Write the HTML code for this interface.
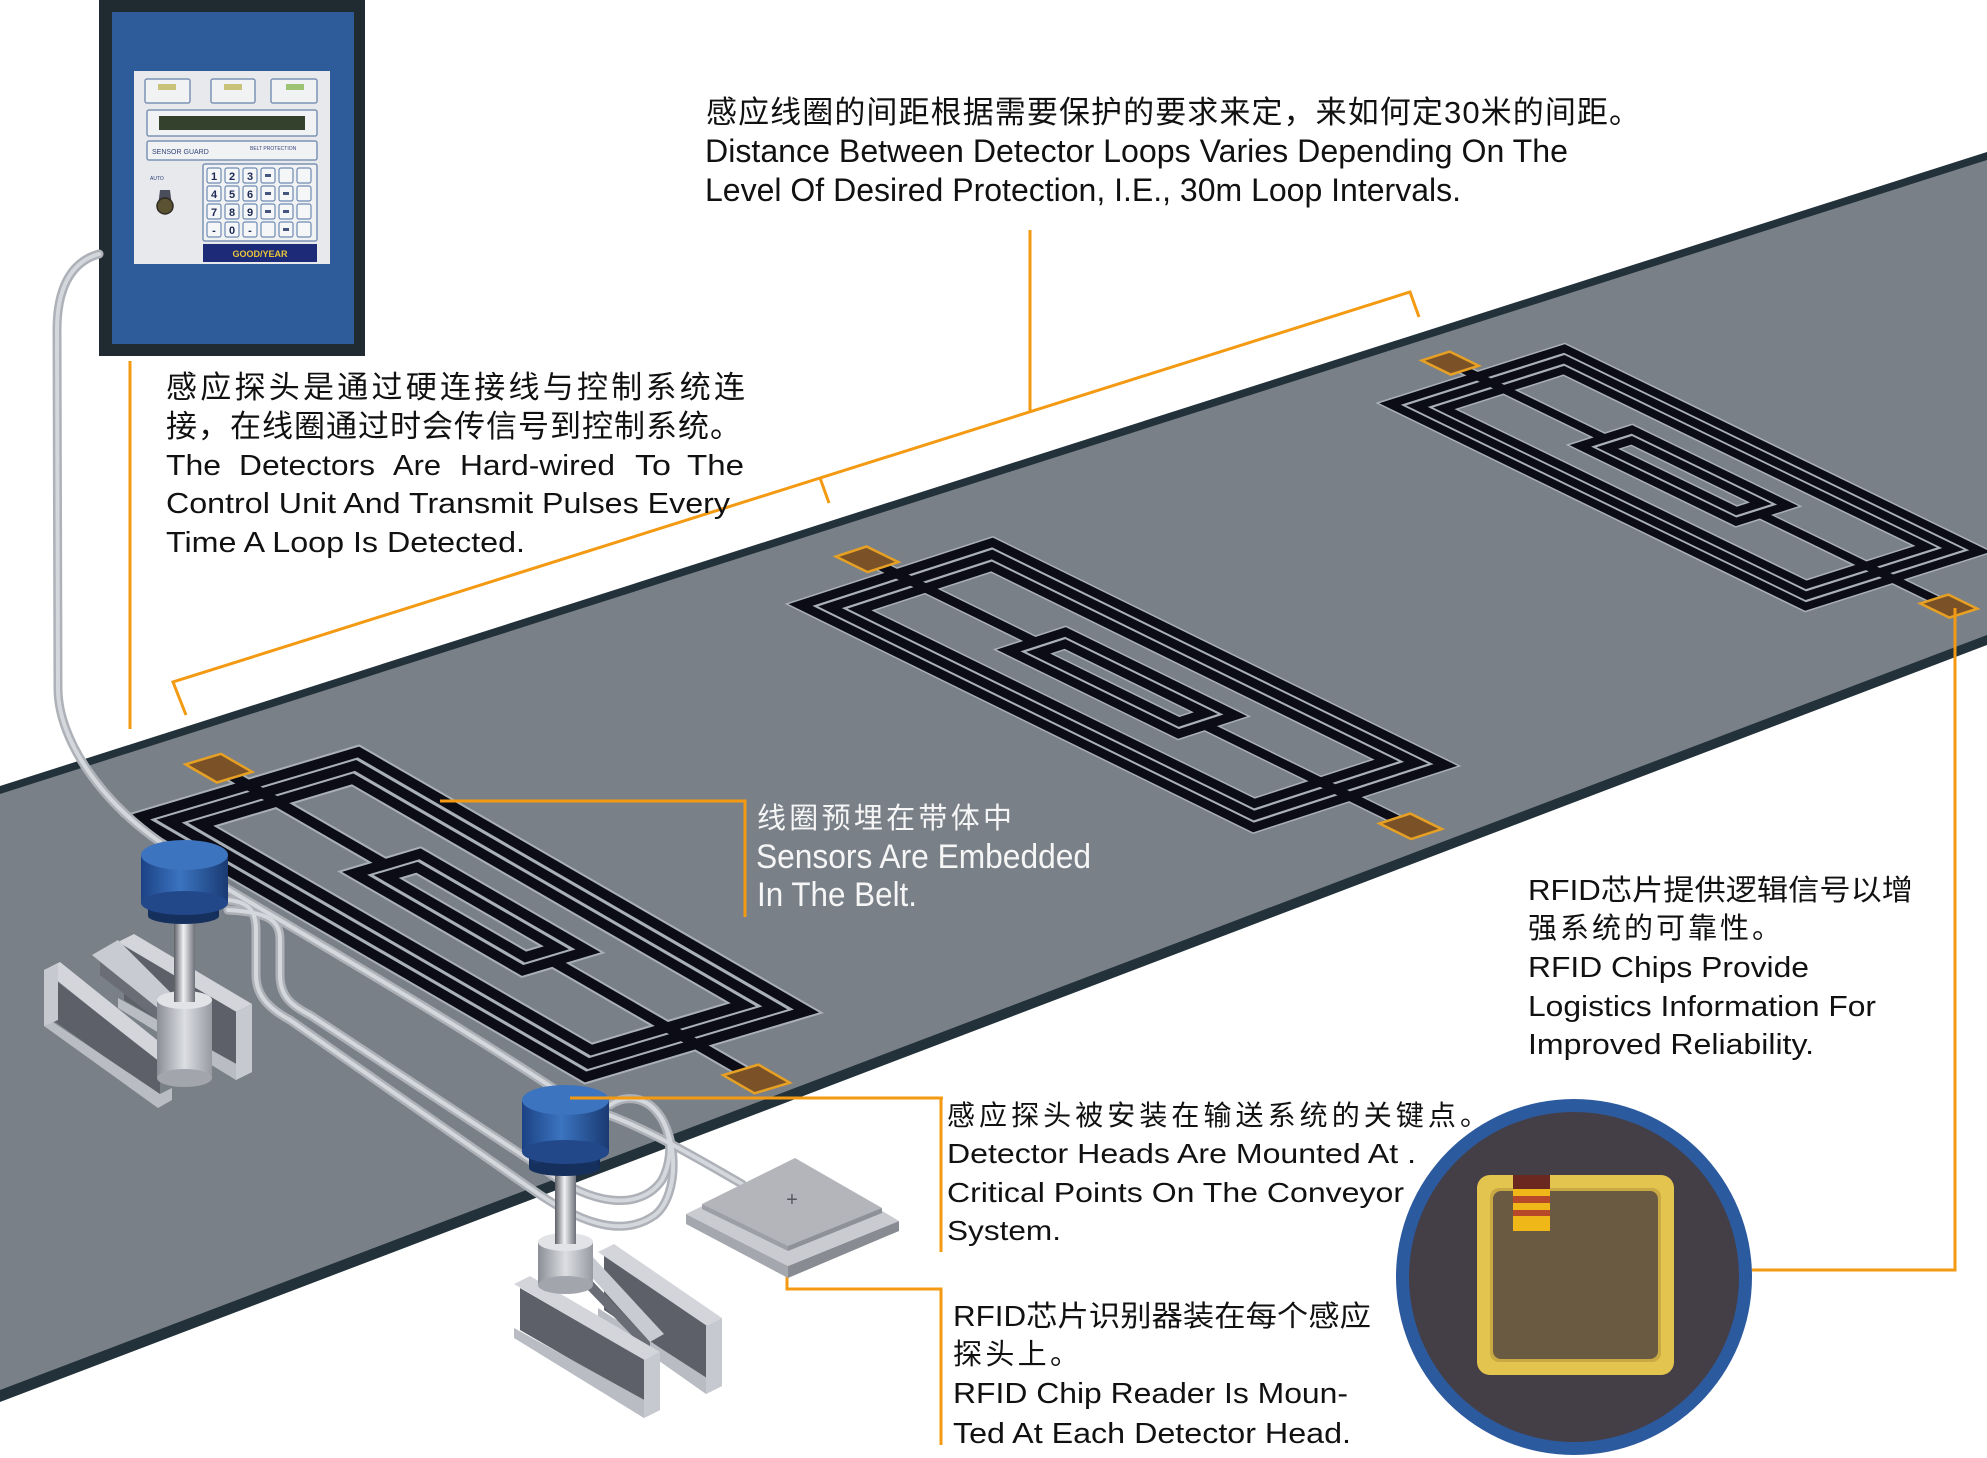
<!DOCTYPE html>
<html><head><meta charset="utf-8"><style>
html,body{margin:0;padding:0;background:#fff;}
svg{display:block;}
text{font-family:"Liberation Sans","Noto Sans CJK SC",sans-serif;}
</style></head><body>
<svg width="1987" height="1458" viewBox="0 0 1987 1458" xmlns="http://www.w3.org/2000/svg">
<defs>
<linearGradient id="blue" x1="0" x2="1" y1="0" y2="0">
<stop offset="0" stop-color="#1c4284"/><stop offset="0.45" stop-color="#3b74c0"/><stop offset="1" stop-color="#1a3a72"/>
</linearGradient>
<linearGradient id="blue2" x1="0" x2="1" y1="0" y2="0">
<stop offset="0" stop-color="#142e5e"/><stop offset="0.5" stop-color="#2a56a0"/><stop offset="1" stop-color="#132a56"/>
</linearGradient>
<linearGradient id="metal" x1="0" x2="1" y1="0" y2="0">
<stop offset="0" stop-color="#8b8e96"/><stop offset="0.5" stop-color="#dcdee2"/><stop offset="1" stop-color="#979aa2"/>
</linearGradient>
<linearGradient id="rod" x1="0" x2="1" y1="0" y2="0">
<stop offset="0" stop-color="#5c5f66"/><stop offset="0.45" stop-color="#f0f1f3"/><stop offset="1" stop-color="#6d7078"/>
</linearGradient>
<g id="lp" fill="none" stroke-linejoin="miter" stroke-miterlimit="8">
<polygon vector-effect="non-scaling-stroke" points="0,0 1,0 1,1 0,1"/>
<polygon vector-effect="non-scaling-stroke" points="0.032,0.078 0.968,0.078 0.968,0.922 0.032,0.922"/>
<polygon vector-effect="non-scaling-stroke" points="0.064,0.156 0.936,0.156 0.936,0.844 0.064,0.844"/>
<polygon vector-effect="non-scaling-stroke" points="0.306,0.362 0.681,0.362 0.681,0.658 0.306,0.658"/>
<polygon vector-effect="non-scaling-stroke" points="0.338,0.44 0.649,0.44 0.649,0.58 0.338,0.58"/>
<polyline vector-effect="non-scaling-stroke" points="-0.07,0.5 0.306,0.5"/>
<polyline vector-effect="non-scaling-stroke" points="0.681,0.5 1.11,0.5"/>
</g>
<g id="pads" fill="#7b5228" stroke="#e6a024" stroke-width="2.5">
<polygon vector-effect="non-scaling-stroke" points="-0.1,0.42 -0.03,0.42 -0.03,0.58 -0.1,0.58"/>
<polygon vector-effect="non-scaling-stroke" points="1.1,0.42 1.17,0.42 1.17,0.58 1.1,0.58"/>
</g>
</defs>

<rect width="1987" height="1458" fill="#ffffff"/>

<!-- belt -->
<polygon points="0,786 1987,152 1987,645 0,1402" fill="#23323a"/>
<polygon points="0,794 1987,160 1987,635 0,1390" fill="#7a8088"/>

<!-- loops -->
<g transform="matrix(448 259 221 -66 137.5 818)">
<use href="#lp" stroke="#a9b0b8" stroke-width="14"/>
<use href="#lp" stroke="#0c0c16" stroke-width="10"/>
<use href="#pads"/>
</g>
<g transform="matrix(453 222.5 192 -62.5 800.5 605)">
<use href="#lp" stroke="#a9b0b8" stroke-width="12"/>
<use href="#lp" stroke="#0c0c16" stroke-width="9"/>
<use href="#pads"/>
</g>
<g transform="matrix(415.5 202.5 174.5 -55.5 1390 404)">
<use href="#lp" stroke="#a9b0b8" stroke-width="11"/>
<use href="#lp" stroke="#0c0c16" stroke-width="8"/>
<use href="#pads"/>
</g>

<!-- control panel -->
<rect x="99" y="0" width="266" height="356" fill="#1f2b31"/>
<rect x="112" y="12" width="242" height="332" fill="#2e5b99"/>
<rect x="134" y="71" width="196" height="193" fill="#e7e9ed"/>
<g fill="#f1f2f4" stroke="#7d93b5" stroke-width="1.5">
<rect x="145" y="79" width="45" height="24" rx="2"/>
<rect x="211" y="79" width="44" height="24" rx="2"/>
<rect x="271" y="79" width="46" height="24" rx="2"/>
<rect x="147" y="110" width="170" height="26" rx="2"/>
<rect x="147" y="141" width="170" height="19" rx="2"/>
<rect x="203" y="164" width="114" height="77" rx="2"/>
</g>
<rect x="158" y="84" width="18" height="6" fill="#c9c27a"/>
<rect x="224" y="84" width="18" height="6" fill="#c9c27a"/>
<rect x="286" y="84" width="18" height="6" fill="#9cc474"/>
<rect x="159" y="116" width="146" height="14" fill="#34412d"/>
<text x="152" y="154" font-size="7" fill="#34457a">SENSOR GUARD</text>
<text x="250" y="150" font-size="5" fill="#34457a">BELT PROTECTION</text>
<g fill="#f5f6f8" stroke="#6f8ab3" stroke-width="1.2">
<rect x="207" y="168" width="14" height="15" rx="2"/><rect x="225" y="168" width="14" height="15" rx="2"/><rect x="243" y="168" width="14" height="15" rx="2"/><rect x="261" y="168" width="14" height="15" rx="2"/><rect x="279" y="168" width="14" height="15" rx="2"/><rect x="297" y="168" width="14" height="15" rx="2"/>
<rect x="207" y="186" width="14" height="15" rx="2"/><rect x="225" y="186" width="14" height="15" rx="2"/><rect x="243" y="186" width="14" height="15" rx="2"/><rect x="261" y="186" width="14" height="15" rx="2"/><rect x="279" y="186" width="14" height="15" rx="2"/><rect x="297" y="186" width="14" height="15" rx="2"/>
<rect x="207" y="204" width="14" height="15" rx="2"/><rect x="225" y="204" width="14" height="15" rx="2"/><rect x="243" y="204" width="14" height="15" rx="2"/><rect x="261" y="204" width="14" height="15" rx="2"/><rect x="279" y="204" width="14" height="15" rx="2"/><rect x="297" y="204" width="14" height="15" rx="2"/>
<rect x="207" y="222" width="14" height="15" rx="2"/><rect x="225" y="222" width="14" height="15" rx="2"/><rect x="243" y="222" width="14" height="15" rx="2"/><rect x="261" y="222" width="14" height="15" rx="2"/><rect x="279" y="222" width="14" height="15" rx="2"/><rect x="297" y="222" width="14" height="15" rx="2"/>
</g>
<g font-size="11" font-weight="bold" fill="#1d2a55" text-anchor="middle">
<text x="214" y="180">1</text><text x="232" y="180">2</text><text x="250" y="180">3</text>
<text x="214" y="198">4</text><text x="232" y="198">5</text><text x="250" y="198">6</text>
<text x="214" y="216">7</text><text x="232" y="216">8</text><text x="250" y="216">9</text>
<text x="214" y="234">-</text><text x="232" y="234">0</text><text x="250" y="234">-</text>
</g>
<g fill="#45557f"><rect x="265" y="174" width="6" height="3"/><rect x="265" y="192" width="6" height="3"/><rect x="265" y="210" width="6" height="3"/><rect x="283" y="192" width="6" height="3"/><rect x="283" y="210" width="6" height="3"/><rect x="283" y="228" width="6" height="3"/></g>
<text x="150" y="180" font-size="5" fill="#34457a">AUTO</text>
<polygon points="160,190 170,190 172,206 158,206" fill="#4a4d5a"/>
<circle cx="165" cy="206" r="8" fill="#5b5232" stroke="#2d2a22" stroke-width="1.5"/>
<rect x="203" y="244" width="114" height="18" fill="#1c2a78"/>
<text x="260" y="257" font-size="9" font-weight="bold" fill="#e8c53a" text-anchor="middle">GOOD/YEAR</text>

<!-- orange leaders -->
<g stroke="#f39a12" stroke-width="3" fill="none">
<line x1="130" y1="361" x2="130" y2="729"/>
<polyline points="186,715 173,682 1410,292 1419,317"/>
<line x1="820" y1="478" x2="829" y2="503"/>
<line x1="1030" y1="230" x2="1030" y2="412"/>
<polyline points="440,801 745,801 745,917"/>
<polyline points="1955,608 1955,1270 1752,1270"/>
<polyline points="787,1264 787,1289 941,1289 941,1445"/>
</g>

<!-- cables -->
<g fill="none" stroke-linecap="round">
<g stroke="#aeb2b8" stroke-width="9">
<path d="M 99 254 C 70 262, 57 290, 57 330 L 58 690 C 59 740, 100 800, 160 842"/>
<path d="M 226 888 C 330 950, 450 1020, 556 1090"/>
<path d="M 228 900 C 248 902, 256 910, 256 930 L 256 975 C 256 995, 268 1008, 290 1020 L 530 1188 C 575 1220, 620 1240, 655 1215 C 680 1195, 680 1130, 650 1105 C 635 1095, 620 1098, 610 1105"/>
<path d="M 228 910 C 268 912, 280 920, 280 940 L 280 975 C 280 995, 290 1005, 310 1015 L 545 1170 C 590 1205, 640 1212, 662 1180 C 678 1150, 668 1110, 640 1100"/>
<path d="M 606 1114 C 650 1130, 700 1160, 742 1184"/>
</g>
<g stroke="#d4d7db" stroke-width="4">
<path d="M 99 254 C 70 262, 57 290, 57 330 L 58 690 C 59 740, 100 800, 160 842"/>
<path d="M 226 888 C 330 950, 450 1020, 556 1090"/>
<path d="M 228 900 C 248 902, 256 910, 256 930 L 256 975 C 256 995, 268 1008, 290 1020 L 530 1188 C 575 1220, 620 1240, 655 1215 C 680 1195, 680 1130, 650 1105 C 635 1095, 620 1098, 610 1105"/>
<path d="M 228 910 C 268 912, 280 920, 280 940 L 280 975 C 280 995, 290 1005, 310 1015 L 545 1170 C 590 1205, 640 1212, 662 1180 C 678 1150, 668 1110, 640 1100"/>
<path d="M 606 1114 C 650 1130, 700 1160, 742 1184"/>
</g>
</g>

<!-- support 1 -->
<polygon points="118,942 134,934 252,1004 236,1012" fill="#d3d5da"/>
<polygon points="124,946 240,1014 240,1068 124,1000" fill="#5d6069"/>
<polygon points="118,998 240,1066 252,1060 252,1072 236,1080 118,1008" fill="#b9bcc3"/>
<polygon points="236,1012 252,1004 252,1072 236,1080" fill="#c6c9cf"/>
<polygon points="92,955 118,940 178,1000 160,1010" fill="#c8cbd1"/>
<polygon points="100,962 160,1010 160,1022 100,975" fill="#6a6d76"/>
<polygon points="44,970 60,962 172,1052 156,1060" fill="#d3d5da"/>
<polygon points="50,976 160,1062 160,1096 50,1018" fill="#5d6069"/>
<polygon points="44,1016 160,1094 172,1088 172,1100 158,1108 44,1026" fill="#b9bcc3"/>
<polygon points="44,970 58,964 58,1020 44,1026" fill="#c6c9cf"/>
<rect x="157" y="1000" width="55" height="78" fill="url(#metal)"/>
<ellipse cx="184.5" cy="1078" rx="27.5" ry="9" fill="#a2a5ac"/>
<ellipse cx="184.5" cy="1000" rx="27.5" ry="9" fill="#e1e3e6"/>
<rect x="174" y="918" width="21" height="84" fill="url(#rod)"/>
<!-- puck 1 -->
<rect x="148" y="898" width="71" height="18" fill="url(#blue2)"/>
<ellipse cx="183.5" cy="916" rx="35.5" ry="8" fill="#16305e"/>
<rect x="141" y="855" width="87" height="48" fill="url(#blue)"/>
<ellipse cx="184.5" cy="903" rx="43.5" ry="12" fill="#22488a"/>
<ellipse cx="184.5" cy="855" rx="43.5" ry="15" fill="#3d74bf"/>

<!-- support 2 -->
<polygon points="598,1252 614,1244 722,1318 706,1326" fill="#d3d5da"/>
<polygon points="604,1256 710,1328 710,1382 604,1310" fill="#5d6069"/>
<polygon points="598,1308 710,1380 722,1374 722,1386 706,1394 598,1318" fill="#b9bcc3"/>
<polygon points="706,1326 722,1318 722,1386 706,1394" fill="#c6c9cf"/>
<polygon points="578,1262 592,1256 664,1334 650,1342" fill="#c8cbd1"/>
<polygon points="584,1272 650,1342 650,1354 584,1286" fill="#6a6d76"/>
<polygon points="514,1284 530,1276 660,1352 644,1360" fill="#d3d5da"/>
<polygon points="520,1288 648,1362 648,1404 520,1330" fill="#5d6069"/>
<polygon points="514,1328 648,1402 660,1396 660,1410 644,1418 514,1338" fill="#b9bcc3"/>
<polygon points="644,1360 660,1352 660,1410 644,1418" fill="#c6c9cf"/>
<rect x="538" y="1242" width="55" height="43" fill="url(#metal)"/>
<ellipse cx="565.5" cy="1285" rx="27.5" ry="9" fill="#a2a5ac"/>
<ellipse cx="565.5" cy="1242" rx="27.5" ry="9" fill="#e1e3e6"/>
<rect x="555" y="1166" width="21" height="78" fill="url(#rod)"/>
<!-- puck 2 -->
<rect x="529" y="1148" width="71" height="20" fill="url(#blue2)"/>
<ellipse cx="564.5" cy="1168" rx="35.5" ry="8" fill="#16305e"/>
<rect x="522" y="1100" width="87" height="52" fill="url(#blue)"/>
<ellipse cx="565.5" cy="1152" rx="43.5" ry="12" fill="#22488a"/>
<ellipse cx="565.5" cy="1100" rx="43.5" ry="15" fill="#3d74bf"/>

<!-- reader box -->
<polygon points="686,1214 788,1266 788,1278 686,1224" fill="#a4a7ad"/>
<polygon points="788,1266 899,1221 899,1231 788,1278" fill="#888b92"/>
<polygon points="686,1214 797,1160 899,1221 788,1266" fill="#c9cbd0"/>
<polygon points="702,1204 795,1158 882,1208 788,1246" fill="#b3b5bb"/>
<polygon points="702,1204 788,1246 788,1251 702,1209" fill="#9c9fa5"/>
<polygon points="788,1246 882,1208 882,1213 788,1251" fill="#8e9198"/>
<text x="792" y="1206" font-size="20" fill="#55585f" text-anchor="middle">+</text>
<line x1="943" y1="1098" x2="570" y2="1098" stroke="#f39a12" stroke-width="3"/>
<line x1="941" y1="1098" x2="941" y2="1252" stroke="#f39a12" stroke-width="3"/>

<!-- chip circle -->
<circle cx="1574" cy="1277" r="178" fill="#2c5a9e"/>
<circle cx="1574" cy="1277" r="165" fill="#443e47"/>
<rect x="1477" y="1175" width="197" height="200" rx="13" fill="#e3c44e"/>
<rect x="1490" y="1188" width="171" height="174" rx="9" fill="#c9a943"/>
<rect x="1493" y="1191" width="165" height="168" rx="8" fill="#6a5a41"/>
<rect x="1513" y="1175" width="37" height="14" fill="#6b2820"/>
<rect x="1513" y="1189" width="37" height="7" fill="#f0b719"/>
<rect x="1513" y="1196" width="37" height="7" fill="#b8482a"/>
<rect x="1513" y="1203" width="37" height="7" fill="#f0b719"/>
<rect x="1513" y="1210" width="37" height="6" fill="#b8482a"/>
<rect x="1513" y="1216" width="37" height="15" fill="#f0b719"/>

<!-- texts -->
<g fill="#111">
<text x="706" y="123" font-size="31" textLength="934" lengthAdjust="spacing">感应线圈的间距根据需要保护的要求来定，来如何定30米的间距。</text>
<text x="705" y="162" font-size="32" textLength="863" lengthAdjust="spacingAndGlyphs">Distance Between Detector Loops Varies Depending On The</text>
<text x="705" y="201" font-size="32" textLength="756" lengthAdjust="spacingAndGlyphs">Level Of Desired Protection, I.E., 30m Loop Intervals.</text>

<text x="166" y="398" font-size="31" textLength="579" lengthAdjust="spacing">感应探头是通过硬连接线与控制系统连</text>
<text x="166" y="437" font-size="31" textLength="575" lengthAdjust="spacing">接，在线圈通过时会传信号到控制系统。</text>
<text x="166" y="475" font-size="29" textLength="55" lengthAdjust="spacingAndGlyphs">The</text>
<text x="239" y="475" font-size="29" textLength="136" lengthAdjust="spacingAndGlyphs">Detectors</text>
<text x="393" y="475" font-size="29" textLength="48" lengthAdjust="spacingAndGlyphs">Are</text>
<text x="460" y="475" font-size="29" textLength="155" lengthAdjust="spacingAndGlyphs">Hard-wired</text>
<text x="635" y="475" font-size="29" textLength="36" lengthAdjust="spacingAndGlyphs">To</text>
<text x="687" y="475" font-size="29" textLength="57" lengthAdjust="spacingAndGlyphs">The</text>
<text x="166" y="513" font-size="29" textLength="564" lengthAdjust="spacingAndGlyphs">Control Unit And Transmit Pulses Every</text>
<text x="166" y="552" font-size="29" textLength="359" lengthAdjust="spacingAndGlyphs">Time A Loop Is Detected.</text>

<text x="947" y="1125" font-size="28" textLength="541" lengthAdjust="spacing">感应探头被安装在输送系统的关键点。</text>
<text x="947" y="1163" font-size="28" textLength="469" lengthAdjust="spacingAndGlyphs">Detector Heads Are Mounted At .</text>
<text x="947" y="1202" font-size="28" textLength="457" lengthAdjust="spacingAndGlyphs">Critical Points On The Conveyor</text>
<text x="947" y="1240" font-size="28" textLength="114" lengthAdjust="spacingAndGlyphs">System.</text>

<text x="953" y="1326" font-size="29" textLength="418" lengthAdjust="spacingAndGlyphs">RFID芯片识别器装在每个感应</text>
<text x="953" y="1364" font-size="29" textLength="126" lengthAdjust="spacing">探头上。</text>
<text x="953" y="1403" font-size="29" textLength="395" lengthAdjust="spacingAndGlyphs">RFID Chip Reader Is Moun-</text>
<text x="953" y="1443" font-size="29" textLength="398" lengthAdjust="spacingAndGlyphs">Ted At Each Detector Head.</text>

<text x="1528" y="900" font-size="29" textLength="385" lengthAdjust="spacingAndGlyphs">RFID芯片提供逻辑信号以增</text>
<text x="1528" y="938" font-size="29" textLength="253" lengthAdjust="spacing">强系统的可靠性。</text>
<text x="1528" y="977" font-size="29" textLength="281" lengthAdjust="spacingAndGlyphs">RFID Chips Provide</text>
<text x="1528" y="1016" font-size="29" textLength="348" lengthAdjust="spacingAndGlyphs">Logistics Information For</text>
<text x="1528" y="1054" font-size="29" textLength="286" lengthAdjust="spacingAndGlyphs">Improved Reliability.</text>
</g>
<g fill="#f6f6f6">
<text x="757" y="828" font-size="29" textLength="255" lengthAdjust="spacing">线圈预埋在带体中</text>
<text x="756" y="868" font-size="34" textLength="335" lengthAdjust="spacingAndGlyphs">Sensors Are Embedded</text>
<text x="757" y="906" font-size="34" textLength="160" lengthAdjust="spacingAndGlyphs">In The Belt.</text>
</g>
</svg>
</body></html>
